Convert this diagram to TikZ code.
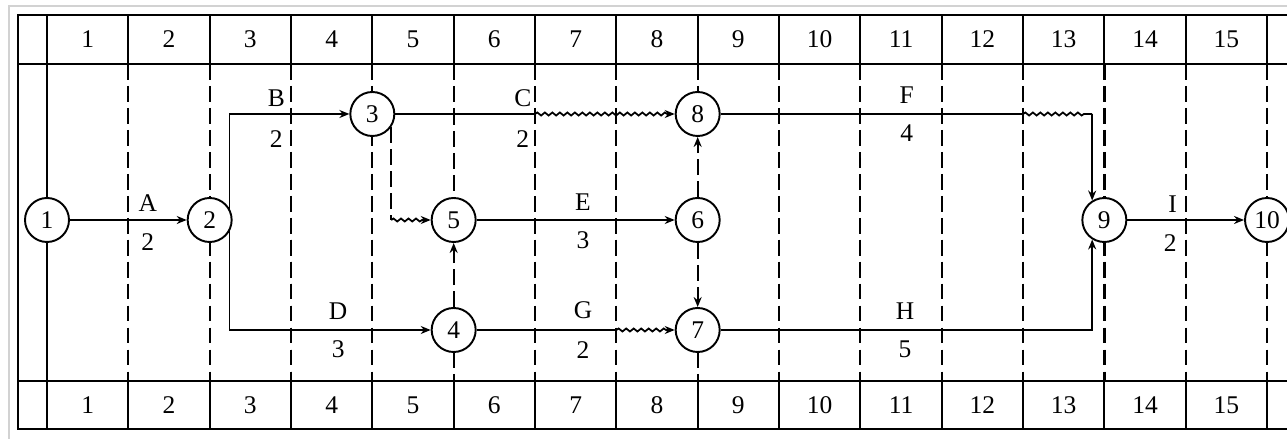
\documentclass[tikz,border=0pt]{standalone}
\usepackage{fontspec}
\setmainfont{Liberation Serif}
\usetikzlibrary{arrows.meta, calc, decorations.pathmorphing}

\begin{document}
\begin{tikzpicture}[
    every node/.style={font=\fontsize{14.5}{16}\selectfont},
    event/.style={circle, draw, line width=1.1pt, fill=white, minimum size=0.88cm, inner sep=0pt},
    act/.style={line width=1pt, -{Stealth[length=2mm,width=1.6mm]}},
    wave/.style={decorate, decoration={snake, amplitude=0.3mm, segment length=1.5mm, post length=1.5mm}},
    gridline/.style={line width=1pt, dash pattern=on 9pt off 3.5pt},
    framebox/.style={line width=1.2pt}
]

    % picture size (1287 x 439 px, 1px = 0.02cm)
    \useasboundingbox (0,0) rectangle (25.74,8.78);

    % time scale
    \def\cw{1.6267}   % width of one day
    \def\xo{0.94}     % x of day 0
    % rows of the network
    \def\yT{6.50}
    \def\yM{4.38}
    \def\yB{2.18}

    % scan border
    \draw[gray!35, line width=0.8pt] (0.18,0) -- (0.18,8.66) -- (25.74,8.66);

    % outer frame and the two scale rows
    \draw[framebox] (0.36,0.20) rectangle (26.20,8.48);
    \draw[framebox] (0.36,7.50) -- (26.20,7.50);
    \draw[framebox] (0.36,1.16) -- (26.20,1.16);
    \foreach \k in {0,...,15} {
        \draw[framebox] ({\xo+\k*\cw},7.50) -- ({\xo+\k*\cw},8.48);
        \draw[framebox] ({\xo+\k*\cw},0.20) -- ({\xo+\k*\cw},1.16);
    }
    \foreach \k in {1,...,15} {
        \node (top\k) at ({\xo+(\k-0.5)*\cw},7.99) {\k};
        \node (bot\k) at ({\xo+(\k-0.5)*\cw},0.68) {\k};
    }

    % day lines (5 and 8 are left open where the dummies run)
    \draw[framebox] (\xo,7.50) -- (\xo,1.16);
    \foreach \k in {1,2,3,4,6,7,9,10,11,12,13,14,15}
        \draw[gridline] ({\xo+\k*\cw},7.50) -- ({\xo+\k*\cw},1.16);
    \foreach \k in {5,8} {
        \draw[gridline] ({\xo+\k*\cw},7.50) -- ({\xo+\k*\cw},{\yT+0.1});
        \draw[gridline] ({\xo+\k*\cw},{\yB-0.44}) -- ({\xo+\k*\cw},1.16);
    }
    \draw[gridline] ({\xo+5*\cw},{\yT+0.1}) -- ({\xo+5*\cw},{\yM+0.44});
    \foreach \k in {3,13}
        \draw[gridline, line width=1.6pt] ({\xo+\k*\cw},7.50) -- ({\xo+\k*\cw},1.16);

    % events
    \node[event] (n1) at (\xo,\yM) {1};
    \node[event] (n2) at ({\xo+2*\cw},\yM) {2};
    \node[event] (n3) at ({\xo+4*\cw},\yT) {3};
    \node[event] (n4) at ({\xo+5*\cw},\yB) {4};
    \node[event] (n5) at ({\xo+5*\cw},\yM) {5};
    \node[event] (n6) at ({\xo+8*\cw},\yM) {6};
    \node[event] (n7) at ({\xo+8*\cw},\yB) {7};
    \node[event] (n8) at ({\xo+8*\cw},\yT) {8};
    \node[event] (n9) at ({\xo+13*\cw},\yM) {9};
    \node[event] (n10) at ({\xo+15*\cw},\yM) {10};

    % free ends of the waves
    \coordinate (c1) at ({\xo+6*\cw},\yT);
    \coordinate (g1) at ({\xo+7*\cw},\yB);
    \coordinate (f1) at ({\xo+12*\cw},\yT);
    \coordinate (f2) at (n9.122 |- n8);
    \coordinate (v35) at (n3.-35 |- n5);

    % activities
    \draw[act] (n1) -- (n2);
    \draw[act] (n2.30) |- (n3);
    \draw[act] (n2.-30) |- (n4);
    \draw[line width=1pt] (n3) -- (c1);
    \draw[act, wave] (c1) -- (n8);
    \draw[act] (n5) -- (n6);
    \draw[line width=1pt] (n4) -- (g1);
    \draw[act, wave] (g1) -- (n7);
    \draw[line width=1pt] (n8) -- (f1);
    \draw[line width=1pt, wave] (f1) -- (f2);
    \draw[act] (f2) -- (n9.122);
    \draw[act] (n7) -| (n9.238);
    \draw[act] (n9) -- (n10);

    % dummy activities
    \draw[gridline] (n3.-35) -- (v35);
    \draw[act, wave] (v35) -- (n5);
    \draw[act, gridline] (n4) -- (n5);
    \draw[act, gridline] (n6) -- (n8);
    \draw[act, gridline] (n6) -- (n7);

    % names and durations
    \node (lA) at ({\xo+1.24*\cw},{\yM+0.34}) {A};
    \node (dA) at ({\xo+1.24*\cw},{\yM-0.44}) {2};
    \node (lB) at ({\xo+2.82*\cw},{\yT+0.32}) {B};
    \node (dB) at ({\xo+2.82*\cw},{\yT-0.50}) {2};
    \node (lC) at ({\xo+5.85*\cw},{\yT+0.32}) {C};
    \node (dC) at ({\xo+5.85*\cw},{\yT-0.50}) {2};
    \node (lD) at ({\xo+3.58*\cw},{\yB+0.38}) {D};
    \node (dD) at ({\xo+3.58*\cw},{\yB-0.38}) {3};
    \node (lE) at ({\xo+6.59*\cw},{\yM+0.36}) {E};
    \node (dE) at ({\xo+6.59*\cw},{\yM-0.40}) {3};
    \node (lG) at ({\xo+6.59*\cw},{\yB+0.40}) {G};
    \node (dG) at ({\xo+6.59*\cw},{\yB-0.40}) {2};
    \node (lF) at ({\xo+10.57*\cw},{\yT+0.38}) {F};
    \node (dF) at ({\xo+10.57*\cw},{\yT-0.38}) {4};
    \node (lH) at ({\xo+10.55*\cw},{\yB+0.38}) {H};
    \node (dH) at ({\xo+10.55*\cw},{\yB-0.38}) {5};
    \node (lI) at ({\xo+13.84*\cw},{\yM+0.32}) {I};
    \node (dI) at ({\xo+13.81*\cw},{\yM-0.46}) {2};

\end{tikzpicture}
\end{document}
